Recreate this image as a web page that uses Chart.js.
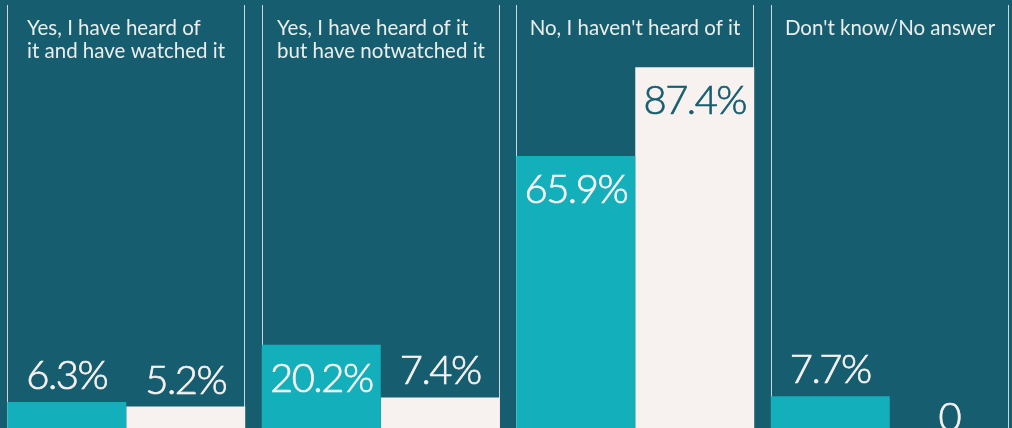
<!DOCTYPE html>
<html>
<head>
<meta charset="utf-8">
<script src="https://cdn.jsdelivr.net/npm/chart.js@4"></script>
<style>
  html, body { margin: 0; padding: 0; background: #175d70; overflow: hidden; width: 1012px; height: 428px; }
  #wrap { position: absolute; left: -1px; top: 0; width: 1018px; height: 428px; }
</style>
</head>
<body>
<div id="wrap"><canvas id="chart"></canvas></div>
<script>
// Panel headings (one entry per answer, lines split as drawn)
const categories = [
  ["Yes, I have heard of", "it and have watched it"],
  ["Yes, I have heard of it", "but have notwatched it"],
  ["No, I haven't heard of it"],
  ["Don't know/No answer"]
];
// Share of respondents, %
const groupA = [6.3, 20.2, 65.9, 7.7];
const groupB = [5.2, 7.4, 87.4, 0];

const BG = '#175d70';
const TEAL = '#13afbb';
const CREAM = '#f7f2ef';
const FONT = 'Lato, "Open Sans", sans-serif';

const fmt = v => (v === 0 ? '0' : v.toFixed(1) + '%');

const panelPlugin = {
  id: 'panels',
  beforeDraw(chart) {
    const { ctx, width, height } = chart;
    ctx.save();
    ctx.fillStyle = BG;
    ctx.fillRect(0, 0, width, height);
    ctx.restore();
  },
  beforeDatasetsDraw(chart) {
    const { ctx, chartArea } = chart;
    const a = chart.getDatasetMeta(0).data;
    const b = chart.getDatasetMeta(1).data;
    ctx.save();
    ctx.strokeStyle = 'rgba(232,238,238,0.85)';
    ctx.lineWidth = 1;
    ctx.font = '400 20.5px ' + FONT;
    ctx.fillStyle = '#e9eeec';
    ctx.textBaseline = 'alphabetic';
    ctx.textAlign = 'left';
    categories.forEach((lines, i) => {
      const left = Math.round(a[i].x - a[i].width / 2) + 0.5;
      const right = Math.round(b[i].x + b[i].width / 2) - 0.5;
      ctx.beginPath();
      ctx.moveTo(left, chartArea.top);
      ctx.lineTo(left, chartArea.bottom);
      ctx.moveTo(right, chartArea.top);
      ctx.lineTo(right, chartArea.bottom);
      ctx.stroke();
      // heading block is centred in its panel, lines left-aligned
      const w = Math.max(...lines.map(t => ctx.measureText(t).width));
      const x0 = (left + right) / 2 - w / 2;
      lines.forEach((t, k) => ctx.fillText(t, x0, 35 + k * 23));
    });
    ctx.restore();
  },
  afterDatasetsDraw(chart) {
    const { ctx } = chart;
    ctx.save();
    ctx.font = '300 40px ' + FONT;
    ctx.letterSpacing = '-1.5px';
    ctx.textAlign = 'center';
    ctx.textBaseline = 'alphabetic';
    ctx.lineWidth = 0.7;
    chart.data.datasets.forEach((ds, di) => {
      chart.getDatasetMeta(di).data.forEach((bar, i) => {
        const v = ds.data[i];
        const h = bar.base - bar.y;
        let y;
        let color = CREAM;
        if (v === 0) {
          y = bar.base + 3;
        } else if (h > 80) {
          y = bar.y + 47;
          if (di === 1) color = BG;
        } else {
          y = bar.y - 13;
        }
        ctx.fillStyle = color;
        ctx.strokeStyle = color;
        ctx.fillText(fmt(v), bar.x, y);
        ctx.strokeText(fmt(v), bar.x, y);
      });
    });
    ctx.restore();
  }
};

new Chart(document.getElementById('chart'), {
  type: 'bar',
  data: {
    labels: categories,
    datasets: [
      { label: 'A', data: groupA, backgroundColor: TEAL, borderWidth: 0 },
      { label: 'B', data: groupB, backgroundColor: CREAM, borderWidth: 0 }
    ]
  },
  options: {
    responsive: true,
    maintainAspectRatio: false,
    animation: false,
    events: [],
    layout: { padding: { top: 5, bottom: 0, left: 0, right: 0 } },
    datasets: { bar: { categoryPercentage: 0.935, barPercentage: 1.0 } },
    scales: {
      x: { display: false },
      y: { display: false, min: 0, max: 102.5 }
    },
    plugins: {
      legend: { display: false },
      tooltip: { enabled: false }
    }
  },
  plugins: [panelPlugin]
});
</script>
</body>
</html>
